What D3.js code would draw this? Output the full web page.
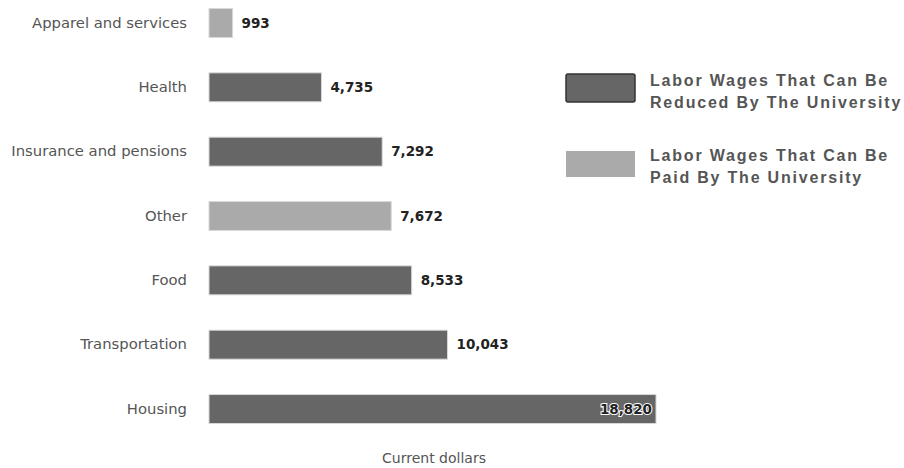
<!DOCTYPE html>
<html><head><meta charset="utf-8">
<script src="https://cdn.jsdelivr.net/npm/d3@7"></script>
<style>body{margin:0;background:#fff;}</style>
</head><body>
<svg id="c" width="904" height="468"></svg>
<script>
const categories = ["Apparel and services","Health","Insurance and pensions","Other","Food","Transportation","Housing"];
const values = [993, 4735, 7292, 7672, 8533, 10043, 18820];
const groups = ["paid","reduced","reduced","paid","reduced","reduced","reduced"];
const legendLabels = [["Labor Wages That Can Be","Reduced By The University"],["Labor Wages That Can Be","Paid By The University"]];
const legendKeys = ["reduced","paid"];
const axisTitle = "Current dollars";

const color = d3.scaleOrdinal().domain(["reduced","paid"]).range(["#666666","#aaaaaa"]);
const svg = d3.select("#c");
const x = d3.scaleLinear().domain([0, 18820]).range([209, 656]);
const y = d3.scaleBand().domain(categories).range([8.5, 423.5]).paddingInner(0.55).paddingOuter(0);
const fmt = d3.format(",");
const labelFont = "'DejaVu Sans', sans-serif";

const rows = categories.map((c,i)=>({c, v: values[i], g: groups[i]}));

svg.selectAll("rect.bar").data(rows).join("rect").attr("class","bar")
  .attr("x", x(0)).attr("y", d=>y(d.c)).attr("width", d=>x(d.v)-x(0)).attr("height", y.bandwidth())
  .attr("fill", d=>color(d.g)).attr("stroke", "#d8d8d8").attr("stroke-width", 1);

const yAxis = d3.axisLeft(y).tickSize(0).tickPadding(0);
const ga = svg.append("g").attr("transform","translate(187,0)").call(yAxis);
ga.select(".domain").remove();
ga.selectAll("text").attr("font-family",labelFont).attr("font-size",14.8).attr("fill","#555");

svg.selectAll("text.val").data(rows).join("text").attr("class","val")
  .attr("x", d => d.v > 15000 ? x(d.v)-4 : x(d.v)+9)
  .attr("y", d => y(d.c)+y.bandwidth()/2)
  .attr("dy","0.35em")
  .attr("text-anchor", d => d.v > 15000 ? "end" : "start")
  .attr("font-family",labelFont).attr("font-weight","bold").attr("font-size",13.5)
  .attr("fill","#222")
  .attr("stroke", d => d.v > 15000 ? "#fff" : "none").attr("stroke-width", 2)
  .attr("paint-order","stroke")
  .text(d=>fmt(d.v));

svg.append("text").attr("x", 434).attr("y", 463).attr("text-anchor","middle")
  .attr("font-family",labelFont).attr("font-size",14).attr("fill","#555").text(axisTitle);

const lg = svg.append("g");
const ly = [74, 151];
legendKeys.forEach((k,i)=>{
  lg.append("rect").attr("x",566).attr("y",ly[i]).attr("width",69).attr("height",i===0?28:26)
    .attr("rx", i===0?2:0)
    .attr("fill", color(k)).attr("stroke", i===0 ? "#333" : "none").attr("stroke-width", 1.5);
  legendLabels[i].forEach((t,j)=>{
    lg.append("text").attr("x",650).attr("y", ly[i] + (i===0?11.5:9.5) + j*22.5)
      .attr("font-family","'Liberation Sans', Arial, sans-serif").attr("font-weight","bold")
      .attr("font-size",16).attr("letter-spacing","1.8px").attr("fill","#555").text(t);
  });
});
</script>
</body></html>
